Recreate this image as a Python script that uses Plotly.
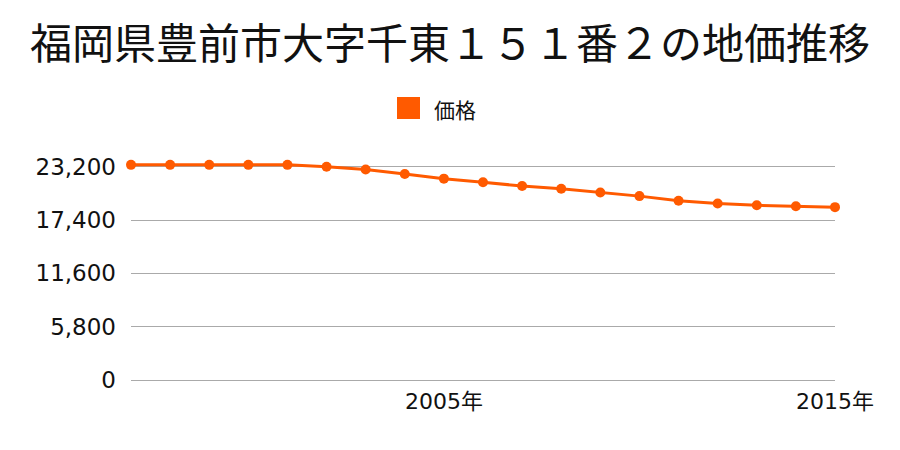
import plotly.graph_objects as go

years = list(range(1997, 2016))
prices = [23400, 23400, 23400, 23400, 23400, 23200, 22900, 22400, 21900,
          21500, 21100, 20800, 20400, 20000, 19500, 19200, 19000, 18900, 18800]
y_ticks = [0, 5800, 11600, 17400, 23200]
y_tick_text = ["0", "5,800", "11,600", "17,400", "23,200"]
x_ticks = [2005, 2015]
x_tick_text = ["2005年", "2015年"]
title = "福岡県豊前市大字千東１５１番２の地価推移"
series_name = "価格"
color = "#ff5a00"
cjk = "Noto Sans CJK JP"
tickfam = "DejaVu Sans, Noto Sans CJK JP"

# plot area: x 131..835, y 160..381 (px)
top_px, bot_px = 160, 381
ppu = (380 - 166.7) / 23200.0
y_max = (380 - top_px) / ppu
y_min = -(bot_px - 380) / ppu

fig = go.Figure()
fig.add_trace(go.Scatter(
    x=years, y=prices, mode="lines+markers", name=series_name,
    line=dict(color=color, width=3),
    marker=dict(color=color, size=10),
    cliponaxis=False, showlegend=False,
))

H = bot_px - top_px
fig.update_layout(
    width=900, height=450,
    margin=dict(l=131, r=65, t=top_px, b=450 - bot_px),
    paper_bgcolor="white", plot_bgcolor="white",
    font=dict(family=cjk, color="#111"),
    title=dict(text=title, x=0.5, xanchor="center", y=1 - 44 / 450, yanchor="middle",
               yref="container", font=dict(size=42, family=cjk, color="#111")),
    xaxis=dict(range=[1997, 2015], tickvals=x_ticks, ticktext=x_tick_text,
               showgrid=False, zeroline=False, showline=False, ticks="",
               ticklabelstandoff=5,
               tickfont=dict(size=22, family=tickfam, color="#111")),
    yaxis=dict(range=[y_min, y_max], tickvals=y_ticks, ticktext=y_tick_text,
               showgrid=True, gridcolor="#aaaaaa", gridwidth=1,
               zeroline=True, zerolinecolor="#aaaaaa", zerolinewidth=1,
               showline=False, ticks="", ticklabelstandoff=14,
               tickfont=dict(size=23, family=tickfam, color="#111")),
    shapes=[dict(type="rect", xref="paper", yref="paper",
                 x0=(397 - 131) / 704, x1=(420 - 131) / 704,
                 y0=(bot_px - 97) / H, y1=(bot_px - 119) / H,
                 fillcolor=color, line=dict(width=0))],
    annotations=[dict(text=series_name, xref="paper", yref="paper",
                      x=(432 - 131) / 704, y=(bot_px - 109) / H,
                      xanchor="left", yanchor="middle", showarrow=False,
                      font=dict(size=21, family=cjk, color="#111"))],
)

fig.write_html("out.html")
